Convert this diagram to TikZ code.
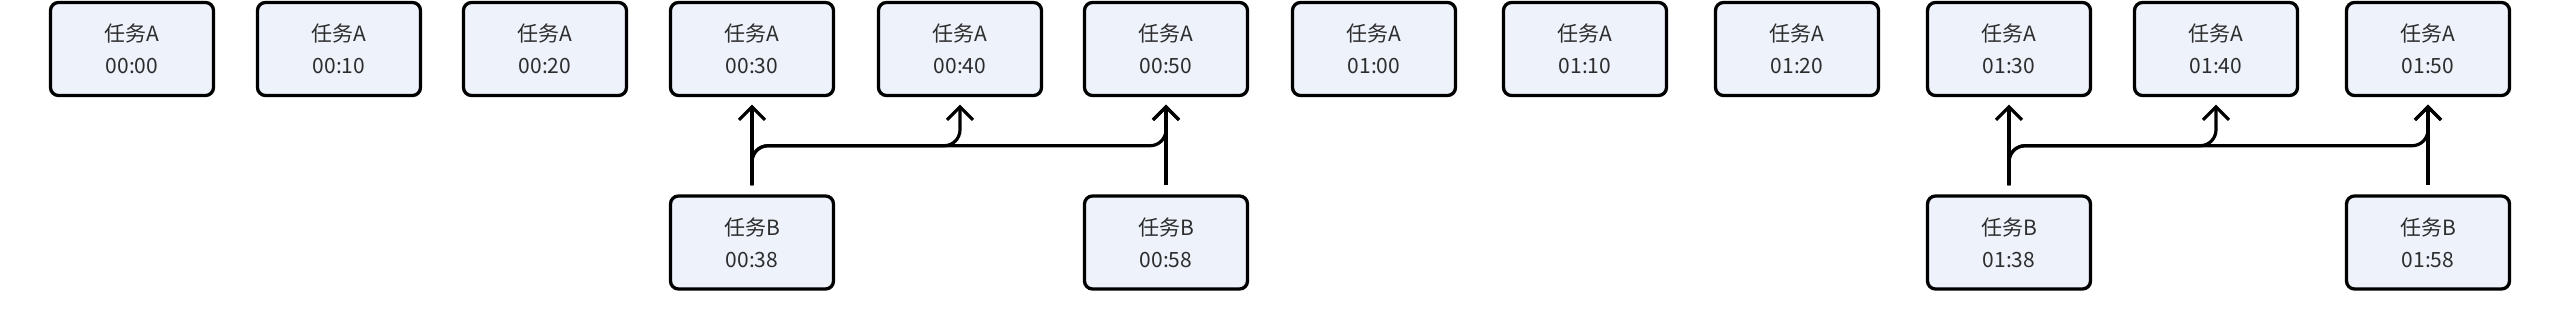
\documentclass[tikz,border=0pt]{standalone}
\usepackage{fontspec}
\setmainfont{Noto Sans CJK SC}
\usepackage{xcolor}
\usetikzlibrary{calc}
\usetikzlibrary{positioning,arrows.meta}
\definecolor{taskfill}{RGB}{237,242,251}
\definecolor{tasktext}{RGB}{45,45,45}
\tikzset{
  task/.style={draw=black, line width=1.65pt, rounded corners=4pt, fill=taskfill,
    text=tasktext, minimum width=81.5pt, minimum height=46.5pt, inner sep=0pt,
    align=center, font=\fontsize{10.5}{16}\selectfont},
  trigger/.style={draw=black, line width=1.6pt, rounded corners=8pt,
    -{Straight Barb[length=6.5pt, width=13pt]}, shorten <=4.5pt, shorten >=3.75pt}
}

\begin{document}
\begin{tikzpicture}[x=0.5pt, y=-0.5pt]

% Page frame
\useasboundingbox (0,0) rectangle (2560,320);
\fill[white] (0,0) rectangle (2560,320);

% Task A runs, every ten minutes
\node[task] (a0000) at (132,49)  {任务A\\00:00};
\node[task] (a0010) at (339,49)  {任务A\\00:10};
\node[task] (a0020) at (545,49)  {任务A\\00:20};
\node[task] (a0030) at (752,49)  {任务A\\00:30};
\node[task] (a0040) at (960,49)  {任务A\\00:40};
\node[task] (a0050) at (1166,49) {任务A\\00:50};
\node[task] (a0100) at (1374,49) {任务A\\01:00};
\node[task] (a0110) at (1585,49) {任务A\\01:10};
\node[task] (a0120) at (1797,49) {任务A\\01:20};
\node[task] (a0130) at (2009,49) {任务A\\01:30};
\node[task] (a0140) at (2216,49) {任务A\\01:40};
\node[task] (a0150) at (2428,49) {任务A\\01:50};

% Task B runs underneath
\node[task] (b0038) at (752,242.5)  {任务B\\00:38};
\node[task] (b0058) at (1166,242.5) {任务B\\00:58};
\node[task] (b0138) at (2009,242.5) {任务B\\01:38};
\node[task] (b0158) at (2428,242.5) {任务B\\01:58};

% First group of triggers
\draw[trigger] (b0038.north) -- (a0030.south);
\draw[trigger] (b0038.north) -- ($(a0030.south)!.5!(b0038.north)$) -| (a0040.south);
\draw[trigger] (b0038.north) -- ($(a0030.south)!.5!(b0038.north)$) -| (a0050.south);
\draw[trigger] (b0058.north) -- (a0050.south);

% Second group of triggers
\draw[trigger] (b0138.north) -- (a0130.south);
\draw[trigger] (b0138.north) -- ($(a0130.south)!.5!(b0138.north)$) -| (a0140.south);
\draw[trigger] (b0138.north) -- ($(a0130.south)!.5!(b0138.north)$) -| (a0150.south);
\draw[trigger] (b0158.north) -- (a0150.south);

\end{tikzpicture}
\end{document}
